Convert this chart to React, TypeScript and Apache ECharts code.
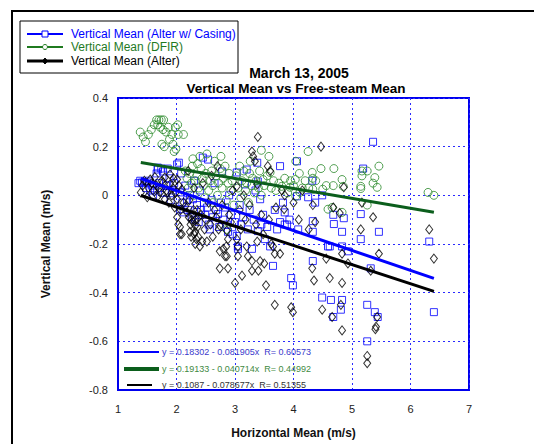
import React, { useEffect, useRef } from "react";
import * as echarts from "echarts";

const FONT = "'Liberation Sans', Arial, sans-serif";

const xTicks = [1, 2, 3, 4, 5, 6, 7];
const yTicks = [-0.8, -0.6, -0.4, -0.2, 0, 0.2, 0.4];

const seriesNames = [
  "Vertical Mean (Alter w/ Casing)",
  "Vertical Mean (DFIR)",
  "Vertical Mean (Alter)",
];

// regression fits: [intercept, slope, R]
const fitCasing = [0.18302, -0.081905, 0.60573];
const fitDfir = [0.19133, -0.040714, 0.44992];
const fitAlter = [0.1087, -0.078677, 0.51355];
const fitRange = [1.39, 6.4];

const casingPoints: [number, number][] = [
  [1.35, 0.05], [1.38, 0.06], [1.41, 0.053], [1.45, 0.052], [1.48, 0.03], [1.5, 0.053], [1.53, 0.06],
  [1.55, 0.02], [1.58, 0.04], [1.6, 0.0], [1.63, 0.02], [1.66, 0.09], [1.68, 0.114], [1.68, 0.106],
  [1.7, 0.05], [1.72, 0.03], [1.74, 0.11], [1.77, 0.098], [1.8, 0.01], [1.82, 0.04], [1.85, 0.11],
  [1.88, 0.07], [1.9, -0.02], [1.93, 0.02], [1.96, 0.05], [2.01, 0.127], [2.04, 0.134], [2.06, 0.012],
  [2.06, -0.057], [2.08, 0.09], [2.1, -0.03], [2.12, -0.07], [2.15, 0.04], [2.18, -0.02], [2.2, -0.06],
  [2.23, 0.0], [2.26, -0.09], [2.28, -0.016], [2.3, 0.06], [2.32, -0.1], [2.35, -0.04], [2.38, -0.11],
  [2.4, 0.02], [2.42, -0.06], [2.45, 0.155], [2.47, -0.03], [2.49, -0.08], [2.52, -0.05], [2.54, 0.147],
  [2.55, -0.12], [2.57, -0.14], [2.6, -0.02], [2.62, -0.09], [2.65, 0.05], [2.68, -0.06], [2.71, -0.077],
  [2.73, -0.13], [2.76, -0.03], [2.78, 0.098], [2.8, -0.1], [2.83, -0.05], [2.86, -0.12], [2.88, -0.15],
  [2.9, 0.0], [2.93, -0.08], [2.96, -0.16], [3.0, -0.11], [3.03, 0.094], [3.03, -0.167], [3.05, -0.21],
  [3.05, -0.22], [3.08, -0.04], [3.1, -0.12], [3.14, -0.09], [3.17, 0.045], [3.2, 0.106], [3.22, -0.14],
  [3.25, -0.06], [3.29, -0.22], [3.32, -0.1], [3.35, 0.02], [3.38, 0.134], [3.39, 0.057], [3.39, -0.147],
  [3.43, -0.016], [3.45, -0.12], [3.48, -0.08], [3.51, -0.18], [3.55, -0.13], [3.6, -0.21], [3.65, -0.29],
  [3.68, -0.06], [3.72, -0.14], [3.77, 0.12], [3.77, -0.11], [3.82, -0.03], [3.85, -0.12], [3.85, -0.07],
  [3.89, -0.12], [3.93, -0.1], [3.96, -0.34], [3.99, -0.37], [4.06, 0.14], [4.06, -0.004], [4.08, -0.14],
  [4.25, -0.008], [4.32, 0.06], [4.33, -0.106], [4.33, -0.15], [4.33, -0.27], [4.37, -0.03], [4.49, 0.0],
  [4.49, -0.42], [4.59, -0.21], [4.62, -0.21], [4.64, -0.43], [4.68, -0.08], [4.69, -0.118], [4.68, -0.5],
  [4.81, -0.47], [4.83, -0.15], [4.83, -0.21], [4.83, -0.43], [4.86, -0.094], [4.93, -0.23], [5.15, -0.077],
  [5.15, -0.18], [5.19, 0.11], [5.26, -0.45], [5.26, -0.6], [5.32, -0.3], [5.36, 0.22], [5.39, -0.48],
  [5.44, -0.5], [5.46, -0.15], [6.32, -0.19], [6.4, -0.48],
];

const dfirPoints: [number, number][] = [
  [1.38, 0.26], [1.43, 0.24], [1.47, 0.22], [1.52, 0.25], [1.57, 0.27], [1.62, 0.29], [1.66, 0.31],
  [1.7, 0.31], [1.74, 0.31], [1.78, 0.31], [1.68, 0.29], [1.72, 0.28], [1.77, 0.27], [1.82, 0.26],
  [1.86, 0.28], [1.92, 0.25], [1.98, 0.28], [2.03, 0.25], [2.12, 0.25], [1.88, 0.23], [1.94, 0.21],
  [1.99, 0.19], [1.96, 0.18], [1.75, 0.21], [1.79, 0.2], [2.02, 0.29],
  [2.15, 0.1], [2.18, 0.07], [2.2, 0.03], [2.22, 0.09], [2.25, 0.05], [2.27, 0.12], [2.3, 0.0],
  [2.32, 0.06], [2.35, 0.08], [2.38, 0.03], [2.4, 0.16], [2.42, 0.11], [2.44, 0.07], [2.46, 0.04],
  [2.48, -0.01], [2.5, 0.09], [2.52, 0.17], [2.28, 0.15], [2.36, 0.13], [2.55, 0.02],
  [2.58, 0.06], [2.6, 0.1], [2.62, 0.04], [2.65, 0.14], [2.68, 0.08], [2.7, 0.0], [2.72, 0.05],
  [2.75, 0.11], [2.78, 0.03], [2.8, 0.07], [2.83, 0.12], [2.85, -0.02], [2.88, 0.05], [2.9, 0.09],
  [2.93, 0.02], [2.95, 0.06], [2.98, -0.04], [2.86, -0.14], [2.62, -0.03], [2.76, 0.16],
  [3.02, 0.08], [3.05, 0.03], [3.08, 0.12], [3.1, -0.01], [3.12, 0.06], [3.15, 0.1], [3.18, 0.02],
  [3.2, 0.05], [3.23, -0.03], [3.25, 0.09], [3.28, 0.04], [3.3, 0.07], [3.33, 0.01], [3.36, 0.06],
  [3.4, 0.03], [3.42, 0.1], [3.45, 0.0], [3.48, 0.065], [3.5, 0.04], [3.26, 0.14],
  [3.55, 0.08], [3.6, 0.094], [3.62, 0.03], [3.66, 0.06], [3.7, 0.02], [3.75, 0.05], [3.8, 0.037],
  [3.85, 0.07], [3.9, 0.01], [3.95, 0.06], [4.0, 0.04], [4.1, 0.09], [4.15, 0.03], [4.2, 0.06],
  [3.58, 0.16], [3.45, 0.185], [4.04, 0.14], [4.25, 0.18], [4.32, 0.094], [4.47, 0.11], [4.69, 0.11],
  [4.33, 0.07], [4.38, 0.06], [4.56, 0.04], [4.68, 0.04], [4.83, 0.065], [4.85, 0.037], [4.5, 0.025],
  [4.33, 0.025], [5.17, 0.1], [5.26, 0.1], [5.46, 0.12], [5.39, 0.073], [5.36, 0.05], [5.43, 0.033],
  [5.15, 0.037], [5.15, 0.028], [5.17, 0.08], [6.3, 0.012], [6.4, 0.0], [5.26, -0.04], [4.83, -0.07],
  [4.66, -0.05], [4.03, 0.065], [4.04, -0.004], [4.59, -0.057], [4.26, 0.03], [4.11, 0.012], [3.94, 0.033],
];

const alterPoints: [number, number][] = [
  [1.39, 0.012], [1.42, 0.04], [1.45, 0.06], [1.5, -0.008], [1.52, 0.03], [1.55, 0.065], [1.58, 0.05],
  [1.6, 0.02], [1.63, 0.075], [1.66, 0.04], [1.68, -0.004], [1.7, 0.03], [1.72, 0.012], [1.75, 0.06],
  [1.77, 0.053], [1.8, 0.073], [1.8, -0.016], [1.83, 0.02], [1.85, 0.012], [1.87, -0.03], [1.89, 0.086],
  [1.89, 0.045], [1.92, 0.0], [1.95, 0.07], [1.97, -0.05], [2.01, 0.065], [2.01, -0.016], [2.01, -0.09],
  [2.03, -0.12], [2.06, -0.13], [2.06, -0.16], [2.09, 0.024], [2.09, -0.16], [2.12, -0.03], [2.15, -0.045],
  [2.18, -0.07], [2.2, 0.1], [2.22, -0.02], [2.23, -0.15], [2.26, -0.1], [2.28, -0.11], [2.3, 0.03],
  [2.32, -0.125], [2.32, -0.15], [2.32, -0.2], [2.35, -0.06], [2.37, -0.17], [2.4, -0.21], [2.42, -0.08],
  [2.44, -0.19], [2.45, 0.05], [2.48, -0.14], [2.5, -0.1], [2.52, -0.19], [2.55, -0.03], [2.58, -0.12],
  [2.6, 0.08], [2.62, -0.17], [2.65, -0.06], [2.68, -0.09], [2.7, 0.12], [2.72, -0.14], [2.74, -0.125],
  [2.74, -0.23], [2.74, -0.3], [2.78, -0.04], [2.8, -0.22], [2.83, -0.25], [2.85, -0.21], [2.86, -0.145],
  [2.86, -0.25], [2.88, -0.18], [2.88, -0.3], [2.9, -0.08], [2.93, -0.11], [2.96, 0.02], [3.0, -0.36],
  [3.03, -0.18], [3.03, 0.037], [3.05, -0.21], [3.05, -0.25], [3.08, -0.06], [3.1, -0.14], [3.12, -0.33],
  [3.15, 0.0], [3.18, -0.1], [3.2, -0.21], [3.22, -0.25], [3.25, -0.04], [3.29, 0.18], [3.29, -0.27],
  [3.29, -0.31], [3.31, 0.16], [3.34, 0.14], [3.36, -0.12], [3.38, -0.19], [3.38, 0.045], [3.39, 0.24],
  [3.4, -0.31], [3.43, -0.27], [3.45, -0.08], [3.48, -0.16], [3.5, -0.28], [3.53, -0.37], [3.56, 0.12],
  [3.58, -0.1], [3.6, 0.1], [3.62, -0.2], [3.65, -0.21], [3.68, -0.24], [3.68, -0.45], [3.7, -0.05],
  [3.77, -0.24], [3.8, 0.02], [3.84, -0.057], [3.85, 0.0], [3.96, -0.46], [3.99, -0.48], [4.0, -0.03],
  [4.09, -0.1], [4.15, 0.02], [4.26, -0.14], [4.32, -0.3], [4.33, -0.04], [4.35, -0.35], [4.37, -0.11],
  [4.47, 0.2], [4.49, -0.47], [4.56, -0.26], [4.62, -0.34], [4.66, -0.5], [4.68, -0.05], [4.79, -0.073],
  [4.81, -0.45], [4.83, -0.24], [4.83, -0.36], [4.83, -0.555], [4.86, 0.033], [4.93, -0.28], [5.15, -0.14],
  [5.17, -0.03], [5.26, -0.66], [5.26, -0.69], [5.32, -0.31], [5.36, -0.09], [5.41, -0.54], [5.43, -0.5],
  [5.46, -0.24], [5.4, -0.55], [6.32, -0.14], [6.4, -0.26],
  [2.24, -0.12], [2.27, -0.08], [2.3, -0.16], [2.33, -0.1], [2.36, -0.13], [2.38, -0.09], [2.29, -0.06],
  [2.21, -0.09], [2.25, -0.17], [2.34, -0.18], [1.94, 0.03], [1.98, 0.01], [2.04, 0.04], [2.07, -0.06],
];

const BLUE = "#0000ff";
const GREEN_LINE = "#0b5e1c";
const GREEN_MARK = "#2a8a2a";
const BLACK = "#000000";

function fitLine(fit: number[]): [number, number][] {
  return fitRange.map((x) => [x, fit[0] + fit[1] * x] as [number, number]);
}

function fitLabel(fit: number[]): string {
  const slope = Math.abs(fit[1]);
  return `y = ${fit[0]} - ${slope}x  R= ${fit[2]}`;
}

export default function App() {
  const ref = useRef<HTMLDivElement>(null);
  useEffect(() => {
    if (!ref.current) return;
    const chart = echarts.init(ref.current, undefined, { renderer: "svg" });

    const scatter = (name: string, data: [number, number][], symbol: string, size: any, color: string) => ({
      name,
      type: "scatter",
      data,
      symbol,
      symbolSize: size,
      itemStyle: { color: "transparent", borderColor: color, borderWidth: 1 },
      z: 2,
    });
    const line = (data: [number, number][], color: string, width: number) => ({
      type: "line",
      data,
      showSymbol: false,
      symbol: "none",
      lineStyle: { color, width },
      z: 3,
    });

    const legendRow = (y: number, color: string, text: string, marker: any, lw: number) => [
      { type: "line", shape: { x1: 27, y1: y, x2: 63, y2: y }, style: { stroke: color, lineWidth: lw } },
      marker,
      {
        type: "text",
        x: 71,
        y,
        style: { text, fill: color, font: `12px ${FONT}`, verticalAlign: "middle" },
      },
    ];

    const fitRow = (y: number, x1: number, x2: number, color: string, textColor: string, fit: number[], lw: number) => [
      { type: "line", shape: { x1, y1: y, x2, y2: y }, style: { stroke: color, lineWidth: lw }, z: 10 },
      {
        type: "text",
        x: 162,
        y,
        z: 10,
        style: { text: fitLabel(fit), fill: textColor, font: `9px ${FONT}`, verticalAlign: "middle" },
      },
    ];

    const gridLine = { show: true, lineStyle: { color: "#2a2aff", type: [2, 3], width: 1 } };

    chart.setOption({
      animation: false,
      backgroundColor: "#ffffff",
      textStyle: { fontFamily: FONT },
      grid: {
        left: 118,
        right: 65,
        top: 98,
        bottom: 52,
        show: true,
        borderColor: "#0000ee",
        borderWidth: 2,
        backgroundColor: "transparent",
      },
      xAxis: {
        type: "value",
        min: xTicks[0],
        max: xTicks[xTicks.length - 1],
        interval: 1,
        name: "Horizontal Mean (m/s)",
        nameLocation: "middle",
        nameGap: 37,
        nameTextStyle: { fontWeight: "bold", fontSize: 12, color: "#111", fontFamily: FONT },
        axisLine: { show: true, onZero: false, lineStyle: { color: "#0000ee", width: 2 } },
        axisTick: { show: false },
        axisLabel: { fontSize: 11, color: "#222", margin: 13, fontFamily: FONT },
        splitLine: gridLine,
      },
      yAxis: {
        type: "value",
        min: yTicks[0],
        max: yTicks[yTicks.length - 1],
        interval: 0.2,
        name: "Vertical Mean (m/s)",
        nameLocation: "middle",
        nameGap: 66,
        nameTextStyle: { fontWeight: "bold", fontSize: 12, color: "#111", fontFamily: FONT },
        axisLine: { show: true, onZero: false, lineStyle: { color: "#0000ee", width: 2 } },
        axisTick: { show: false },
        axisLabel: { fontSize: 11, color: "#222", margin: 10, fontFamily: FONT },
        splitLine: gridLine,
      },
      series: [
        scatter(seriesNames[0], casingPoints, "rect", [7, 7], BLUE),
        scatter(seriesNames[1], dfirPoints, "circle", 8, GREEN_MARK),
        scatter(seriesNames[2], alterPoints, "diamond", [7, 9], BLACK),
        line(fitLine(fitCasing), BLUE, 3),
        line(fitLine(fitDfir), GREEN_LINE, 3),
        line(fitLine(fitAlter), BLACK, 3),
      ],
      graphic: [
        // outer frame
        { type: "line", shape: { x1: 12, y1: 11, x2: 534, y2: 11 }, style: { stroke: "#000", lineWidth: 2 } },
        { type: "line", shape: { x1: 12, y1: 10, x2: 12, y2: 444 }, style: { stroke: "#000", lineWidth: 2 } },
        // legend box
        { type: "rect", shape: { x: 20, y: 21, width: 218, height: 52 }, style: { fill: "#fff", stroke: "#000", lineWidth: 1 } },
        ...legendRow(
          34,
          BLUE,
          seriesNames[0],
          { type: "rect", shape: { x: 42, y: 31, width: 6, height: 6 }, style: { fill: "#fff", stroke: BLUE, lineWidth: 1 } },
          2
        ),
        ...legendRow(
          47,
          "#1f7a1f",
          seriesNames[1],
          { type: "circle", shape: { cx: 45, cy: 47, r: 2.5 }, style: { fill: "#fff", stroke: "#1f7a1f", lineWidth: 1 } },
          2
        ),
        ...legendRow(
          61,
          BLACK,
          seriesNames[2],
          { type: "polygon", shape: { points: [[45, 58], [47.5, 61], [45, 64], [42.5, 61]] }, style: { fill: "#000", stroke: "#000", lineWidth: 1 } },
          3
        ),
        // title
        {
          type: "text",
          x: 299,
          y: 73,
          style: { text: "March 13, 2005", fill: "#000", font: `bold 14px ${FONT}`, align: "center", verticalAlign: "middle" },
        },
        {
          type: "text",
          x: 296,
          y: 88,
          style: { text: "Vertical Mean vs Free-steam Mean", fill: "#000", font: `bold 13.5px ${FONT}`, align: "center", verticalAlign: "middle" },
        },
        // fit annotations
        ...fitRow(352, 124, 159, BLUE, "#3a3acc", fitCasing, 2),
        ...fitRow(369, 124, 159, GREEN_LINE, "#3f8a3f", fitDfir, 4),
        ...fitRow(385, 127, 152, BLACK, "#333", fitAlter, 2),
      ],
    });
    return () => chart.dispose();
  }, []);

  return (
    <div
      ref={ref}
      style={{ position: "fixed", left: 0, top: 0, width: 534, height: 444, background: "#fff" }}
    />
  );
}
